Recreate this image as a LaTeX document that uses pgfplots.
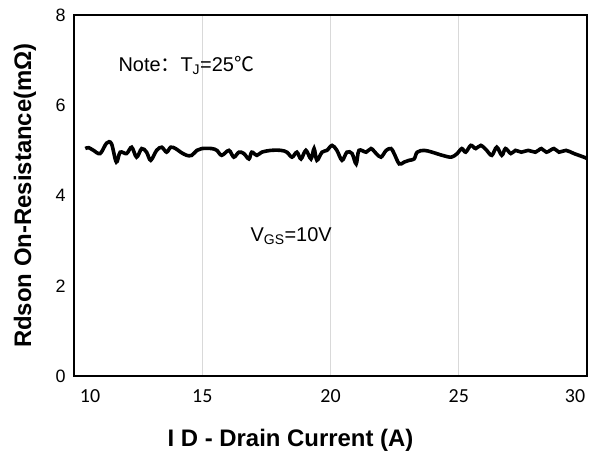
\documentclass[border=0pt]{standalone}
\usepackage{fontspec}
\setmainfont{Liberation Sans}
\newfontfamily\cjk{Noto Sans CJK SC}
\newfontfamily\calib{Carlito}
\usepackage{pgfplots}
\pgfplotsset{compat=1.18}

\begin{document}
\begin{tikzpicture}
\begin{axis}[
    name=ax,
    at={(0,0)}, anchor=south west,
    scale only axis,
    width=513bp, height=361bp,
    xmin=10, xmax=30,
    ymin=0, ymax=8,
    xtick={10,15,20,25,30},
    xticklabels={\rule{32bp}{0pt}10, 15, 20, 25, 30\rule{24bp}{0pt}},
    ytick={0,2,4,6,8},
    /pgf/number format/assume math mode=true,
    major tick length=0pt,
    xmajorgrids,
    grid style={draw=black!15, line width=1bp},
    axis line style={line width=1.6bp},
    xticklabel style={font=\calib\fontsize{20}{20}\selectfont, yshift=-10bp},
    yticklabel style={font=\fontsize{18}{18}\selectfont, xshift=-5bp},
    xlabel={\bfseries I D - Drain Current (A)},
    ylabel={\bfseries Rdson On-Resistance(mΩ)},
    xlabel style={font=\fontsize{24}{24}\selectfont, at={(axis description cs:0.5,0)}, anchor=center, yshift=-64bp, xshift=-40bp},
    ylabel style={font=\fontsize{24}{24}\selectfont, at={(axis description cs:0,0.5)}, anchor=center, yshift=49bp},
]
\addplot[black, line width=3.6bp, smooth, tension=0.55] coordinates {
(10.44,5.04) (10.57,5.06) (10.76,5.00) (11.02,4.93) (11.27,5.16) (11.46,5.15)
(11.65,4.74) (11.80,4.96) (12.05,4.93) (12.25,5.07) (12.44,4.85) (12.64,5.04)
(12.83,4.96) (12.99,4.78) (13.22,5.00) (13.42,5.07) (13.61,4.96) (13.77,5.07)
(13.96,5.04) (14.16,4.96) (14.39,4.89) (14.59,4.89) (14.79,5.00) (14.98,5.04)
(15.37,5.04) (15.57,5.00) (15.76,4.89) (16.04,5.00) (16.23,4.85) (16.43,4.96)
(16.62,4.93) (16.82,4.81) (16.93,4.96) (17.13,4.89) (17.32,4.96) (17.68,5.00)
(18.07,5.00) (18.30,4.96) (18.50,4.85) (18.69,4.96) (18.85,4.81) (19.04,5.00)
(19.24,4.81) (19.36,5.04) (19.47,4.78) (19.67,4.96) (19.86,5.00) (20.06,5.11)
(20.25,5.00) (20.45,4.78) (20.64,4.96) (20.84,4.93) (21.00,4.70) (21.11,5.00)
(21.39,4.96) (21.58,5.04) (21.78,4.93) (21.97,4.85) (22.17,5.00) (22.36,5.04)
(22.48,4.93) (22.68,4.70) (22.87,4.74) (23.07,4.78) (23.26,4.81) (23.38,4.96)
(23.65,5.00) (23.96,4.96) (24.36,4.89) (24.71,4.85) (24.94,4.93) (25.12,5.04)
(25.27,4.96) (25.47,5.11) (25.66,5.04) (25.86,5.11) (26.09,5.00) (26.29,4.89)
(26.48,5.07) (26.68,4.89) (26.82,5.04) (27.03,4.93) (27.21,5.00) (27.44,4.96)
(27.71,5.00) (27.99,4.96) (28.22,5.04) (28.42,4.96) (28.71,5.04) (28.91,4.96)
(29.18,5.00) (29.49,4.93) (29.88,4.85) (30.00,4.82)
};
\node[anchor=base west, font=\fontsize{20}{20}\selectfont] at (axis cs:11.6,6.74)
    {Note{\cjk ：}T\textsubscript{J}=25{\cjk ℃}};
\node[anchor=base west, font=\fontsize{20}{20}\selectfont] at (axis cs:16.75,2.98)
    {V\textsubscript{GS}=10V};
\end{axis}
\pgfresetboundingbox
\path[use as bounding box] ([shift={(-74bp,-83bp)}]ax.south west) rectangle ([shift={(3bp,15bp)}]ax.north east);
\end{tikzpicture}
\end{document}
